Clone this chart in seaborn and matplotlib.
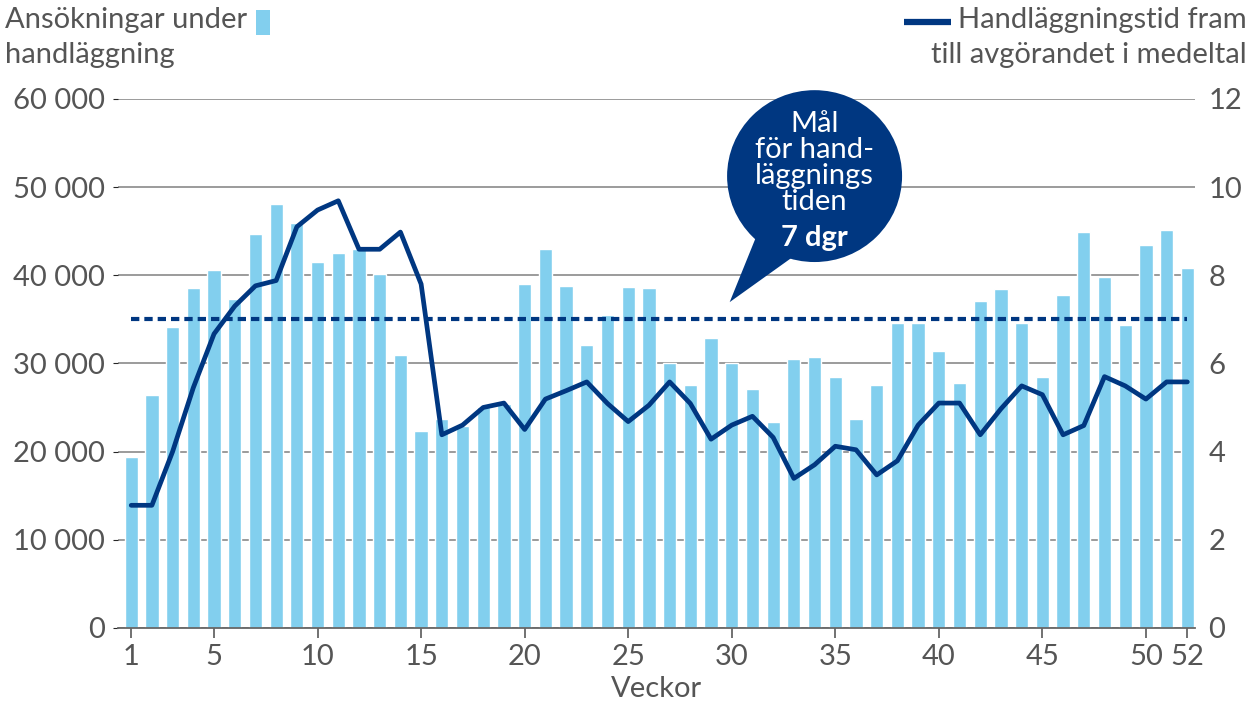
import numpy as np
import pandas as pd
import matplotlib
matplotlib.use("Agg")
import matplotlib.pyplot as plt
from matplotlib.patches import Ellipse, Polygon, Rectangle
from matplotlib.lines import Line2D
import seaborn as sns

# Data
weeks = list(range(1, 53))
applications = [19400, 26400, 34100, 38500, 40600, 37300, 44700, 48100, 45900, 41500,
                42500, 43000, 40100, 30900, 22300, 23700, 22900, 25000, 25400, 39000,
                43000, 38800, 32100, 35500, 38700, 38500, 30100, 27600, 32900, 30100,
                27100, 23300, 30500, 30700, 28500, 23700, 27600, 34600, 34600, 31400,
                27800, 37100, 38400, 34600, 28500, 37800, 44900, 39800, 34400, 43400,
                45100, 40800]
days = [2.78, 2.78, 4.0, 5.45, 6.67, 7.3, 7.76, 7.88, 9.1, 9.48,
        9.69, 8.59, 8.59, 8.98, 7.8, 4.38, 4.6, 5.0, 5.1, 4.5,
        5.19, 5.38, 5.58, 5.09, 4.68, 5.05, 5.58, 5.09, 4.28, 4.6,
        4.8, 4.32, 3.39, 3.7, 4.12, 4.04, 3.47, 3.79, 4.6, 5.1,
        5.1, 4.38, 4.97, 5.49, 5.29, 4.38, 4.59, 5.7, 5.49, 5.19,
        5.58, 5.58]
goal = 7
xticks = [1, 5, 10, 15, 20, 25, 30, 35, 40, 45, 50, 52]
left_ticks = [0, 10000, 20000, 30000, 40000, 50000, 60000]
right_ticks = [0, 2, 4, 6, 8, 10, 12]

df = pd.DataFrame({"week": weeks, "applications": applications, "days": days})

bar_color = "#82CFEE"
navy = "#003781"
grey_text = "#555555"

sns.set_style("white")
plt.rcParams["font.family"] = ["Lato", "DejaVu Sans"]

fig = plt.figure(figsize=(12.57, 7.07), dpi=100)
ax = fig.add_axes([0.094, 0.112, 0.857, 0.748])

sns.barplot(data=df, x="week", y="applications", native_scale=True,
            color=bar_color, saturation=1, width=0.64, ax=ax, zorder=2)
ax.set_xlim(0.37, 52.39)
ax.set_ylim(0, 60000)
ax.set_yticks(left_ticks)
ax.set_yticklabels([f"{v:,}".replace(",", " ") for v in left_ticks])
ax.grid(axis="y", color="#8a8a8a", linewidth=1.2, zorder=0)
ax.set_axisbelow(True)
ax.set_xticks(xticks)
ax.set_xticklabels([str(v) for v in xticks])
for s in ["left", "right", "top"]:
    ax.spines[s].set_visible(False)
ax.spines["bottom"].set_color("#666666")
ax.spines["bottom"].set_linewidth(1.3)
ax.tick_params(axis="x", bottom=True, length=7, width=1.3, color="#666666",
               labelsize=21, labelcolor=grey_text, pad=5)
ax.tick_params(axis="y", left=False, labelsize=21, labelcolor=grey_text, pad=6)
ax.set_xlabel("Veckor", fontsize=21, color=grey_text, labelpad=4)
ax.set_ylabel("")

ax2 = ax.twinx()
sns.lineplot(data=df, x="week", y="days", color=navy, linewidth=3.4, ax=ax2, zorder=4)
ax2.plot([weeks[0], weeks[-1]], [goal, goal], color=navy, linewidth=3.0,
         linestyle=(0, (2.0, 1.2)), zorder=4)
ax2.set_ylim(0, 12)
ax2.set_xlim(0.37, 52.39)
ax2.set_yticks(right_ticks)
ax2.set_ylabel("")
for s in ["left", "right", "top", "bottom"]:
    ax2.spines[s].set_visible(False)
ax2.tick_params(axis="y", right=False, labelsize=21, labelcolor=grey_text, pad=6)

# callout bubble
ax2.add_patch(Polygon([[31.2, 8.9], [33.2, 8.5], [29.9, 7.39]], closed=True,
                      facecolor=navy, edgecolor="none", zorder=6, clip_on=False))
ax2.add_patch(Ellipse((34.0, 10.25), 8.45, 3.9, facecolor=navy, edgecolor="none",
                      zorder=6, clip_on=False))
ax2.text(34.0, 10.55, "Mål\nför hand-\nläggnings\ntiden", color="white", fontsize=21,
         ha="center", va="center", linespacing=1.0, zorder=7)
ax2.text(34.0, 8.85, "7 dgr", color="white", fontsize=21, fontweight="bold",
         ha="center", va="center", zorder=7)

# header legends
t1 = fig.text(0.004, 0.99, "Ansökningar under", fontsize=21, color=grey_text, va="top")
fig.text(0.004, 0.94, "handläggning", fontsize=21, color=grey_text, va="top")
t2 = fig.text(0.992, 0.99, "Handläggningstid fram", fontsize=21, color=grey_text,
              va="top", ha="right")
fig.text(0.992, 0.94, "till avgörandet i medeltal", fontsize=21, color=grey_text,
         va="top", ha="right")

renderer = fig.canvas.get_renderer()
b1 = t1.get_window_extent(renderer).transformed(fig.transFigure.inverted())
b2 = t2.get_window_extent(renderer).transformed(fig.transFigure.inverted())
fig.patches.append(Rectangle((b1.x1 + 0.007, 0.951), 0.0115, 0.035,
                             transform=fig.transFigure, facecolor=bar_color,
                             edgecolor="none"))
fig.lines.append(Line2D([b2.x0 - 0.043, b2.x0 - 0.006], [0.969, 0.969],
                        transform=fig.transFigure, color=navy, linewidth=4.5,
                        solid_capstyle="butt"))

fig.savefig("out.png", dpi=100)
